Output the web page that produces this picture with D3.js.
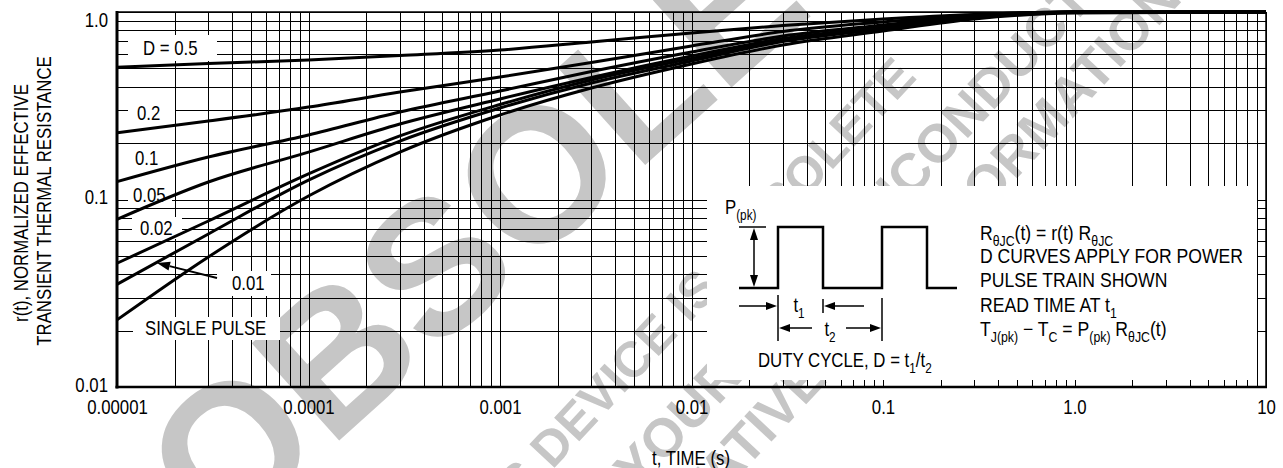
<!DOCTYPE html>
<html><head><meta charset="utf-8">
<script src="https://cdn.jsdelivr.net/npm/d3@7"></script>
<style>
html,body{margin:0;padding:0;background:#fff;}
svg{display:block;}
text{font-family:"Liberation Sans",Arial,Helvetica,sans-serif;}
</style>
</head><body>
<svg id="c" width="1283" height="468"></svg>
<script>
// ---------- DATA ----------
const times = [1e-5, 3e-5, 1e-4, 3e-4, 1e-3, 3e-3, 1e-2, 3e-2, 0.1, 0.3, 1, 10];
const curveD05   = [0.507, 0.531, 0.555, 0.586, 0.627, 0.692, 0.773, 0.847, 0.918, 0.970, 1.0, 1.0];
const curveD02   = [0.227, 0.262, 0.311, 0.374, 0.450, 0.538, 0.659, 0.787, 0.885, 0.965, 1.0, 1.0];
const curveD01   = [0.1245, 0.1685, 0.221, 0.293, 0.379, 0.4815, 0.612, 0.745, 0.852, 0.952, 1.0, 1.0];
const curveD005  = [0.0784, 0.124, 0.179, 0.2527, 0.3436, 0.4473, 0.582, 0.722, 0.832, 0.940, 1.0, 1.0];
const curveD002  = [0.0457, 0.0768, 0.1368, 0.2182, 0.321, 0.4337, 0.5649, 0.709, 0.822, 0.935, 1.0, 1.0];
const curveD001  = [0.0353, 0.0655, 0.127, 0.205, 0.3076, 0.418, 0.548, 0.696, 0.812, 0.929, 1.0, 1.0];
const curveSingle= [0.0228, 0.0494, 0.1044, 0.179, 0.2822, 0.393, 0.528, 0.6668, 0.792, 0.918, 0.988, 1.0];
const seriesNames = ["D = 0.5", "0.2", "0.1", "0.05", "0.02", "0.01", "SINGLE PULSE"];
const xTickValues = [1e-5, 1e-4, 1e-3, 1e-2, 0.1, 1, 10];
const xTickLabels = ["0.00001", "0.0001", "0.001", "0.01", "0.1", "1.0", "10"];
const yTickValues = [0.01, 0.1, 1];
const yTickLabels = ["0.01", "0.1", "1.0"];
const yTitleLines = ["r(t), NORMALIZED EFFECTIVE", "TRANSIENT THERMAL RESISTANCE"];
const xTitle = "t, TIME (s)";
const insetLines = [
  [["R",0],["θJC",1],["(t) = r(t) R",0],["θJC",1]],
  [["D CURVES APPLY FOR POWER",0]],
  [["PULSE TRAIN SHOWN",0]],
  [["READ TIME AT t",0],["1",1]],
  [["T",0],["J(pk)",1],[" − T",0],["C",1],[" = P",0],["(pk)",1],[" R",0],["θJC",1],["(t)",0]]
];
const dutyText = [["DUTY CYCLE, D = t",0],["1",1],["/t",0],["2",1]];
const watermarkBig = "OBSOLETE";
const watermarkSmall = ["THIS DEVICE IS OBSOLETE", "CONTACT YOUR ON SEMICONDUCTOR", "REPRESENTATIVE FOR INFORMATION"];

// ---------- SETUP ----------
const svg = d3.select("#c");
const L = 117, R = 1266, T = 12, B = 387;
const x = d3.scaleLog().domain([1e-5, 10]).range([L, R]);
const y = d3.scaleLog().domain([0.01, 1]).range([B, T]);
const FS = 20, SX = 0.84;

function rich(g, px, py, parts, anchor, sx, fs) {
  fs = fs || FS; sx = sx || SX;
  const t = g.append("text")
    .attr("transform", `translate(${px},${py + 0.36 * fs}) scale(${sx},1)`)
    .attr("text-anchor", anchor || "start")
    .attr("font-size", fs).attr("fill", "#000");
  let sub = false;
  parts.forEach(([s, isSub]) => {
    const ts = t.append("tspan").text(s);
    if (isSub && !sub) { ts.attr("dy", fs * 0.28).attr("font-size", fs * 0.7); sub = true; }
    else if (isSub) { ts.attr("font-size", fs * 0.7); }
    else if (!isSub && sub) { ts.attr("dy", -fs * 0.28); sub = false; }
  });
  return t;
}

// ---------- WATERMARK ----------
const wm = svg.append("g").attr("fill", "#c6c6c6").attr("font-weight", "bold");
wm.append("text").attr("transform", "translate(220,548) rotate(-42)")
  .attr("font-size", 190).text(watermarkBig);
const wmPos = [[918, 78, "end", 50], [800, 318, "middle", 54], [842, 366, "middle", 54]];
watermarkSmall.forEach((s, i) => {
  wm.append("text").attr("transform", `translate(${wmPos[i][0]},${wmPos[i][1]}) rotate(-47)`)
    .attr("text-anchor", wmPos[i][2]).attr("font-size", wmPos[i][3]).text(s);
});

// ---------- GRID ----------
const grid = svg.append("g").attr("stroke", "#000").attr("stroke-width", 1).attr("shape-rendering", "crispEdges");
x.ticks().forEach(v => {
  const px = Math.round(x(v)) + 0.5;
  grid.append("line").attr("x1", px).attr("x2", px).attr("y1", T).attr("y2", B);
});
y.ticks().forEach(v => {
  const py = Math.round(y(v)) + 0.5;
  grid.append("line").attr("x1", L).attr("x2", R).attr("y1", py).attr("y2", py);
});

// ---------- LABEL BOXES ----------
const boxes = [[128,35,217,61],[128,101,175,125],[128,146,172,170],[128,184,172,206],[132,217,182,239],[217,271,271,296],[133,317,280,340]];
boxes.forEach(b => svg.append("rect").attr("x", b[0]).attr("y", b[1]).attr("width", b[2]-b[0]).attr("height", b[3]-b[1]).attr("fill", "#fff"));

// inset white area
svg.append("rect").attr("x", 707).attr("y", 186).attr("width", 550).attr("height", 194).attr("fill", "#fff");

// ---------- CURVES ----------
const allSeries = [curveD05, curveD02, curveD01, curveD005, curveD002, curveD001, curveSingle];
const line = d3.line().x(d => x(d[0])).y(d => y(d[1])).curve(d3.curveMonotoneX);
allSeries.forEach(vals => {
  svg.append("path").datum(times.map((t, i) => [t, vals[i]]))
    .attr("d", line).attr("fill", "none").attr("stroke", "#000")
    .attr("stroke-width", 3).attr("stroke-linejoin", "round").attr("stroke-linecap", "butt");
});

// ---------- FRAME ----------
svg.append("line").attr("x1", L).attr("x2", L).attr("y1", T - 1).attr("y2", B + 1.5).attr("stroke", "#000").attr("stroke-width", 3);
svg.append("line").attr("x1", L - 1.5).attr("x2", R + 1).attr("y1", B).attr("y2", B).attr("stroke", "#000").attr("stroke-width", 2.5);
svg.append("line").attr("x1", R).attr("x2", R).attr("y1", T).attr("y2", B).attr("stroke", "#000").attr("stroke-width", 1.5);
svg.append("line").attr("x1", L).attr("x2", R).attr("y1", T).attr("y2", T).attr("stroke", "#000").attr("stroke-width", 1.5);

// ---------- SERIES LABELS ----------
const labelPos = [[143,48],[137,113],[135,158],[133,195],[140,228],[232,283],[145,328]];
seriesNames.forEach((s, i) => rich(svg, labelPos[i][0], labelPos[i][1], [[s,0]], "start"));

function arrow(g, x1, y1, x2, y2, len, hw, sw) {
  const dx = x2 - x1, dy = y2 - y1, d = Math.hypot(dx, dy), ux = dx / d, uy = dy / d;
  const bx = x2 - ux * len, by = y2 - uy * len;
  g.append("line").attr("x1", x1).attr("y1", y1).attr("x2", bx).attr("y2", by).attr("stroke", "#000").attr("stroke-width", sw || 1.5);
  g.append("path").attr("d", `M${x2},${y2}L${bx - uy * hw},${by + ux * hw}L${bx + uy * hw},${by - ux * hw}Z`).attr("fill", "#000");
}
arrow(svg, 217, 278, 157, 263, 13, 4.5, 2);

// ---------- INSET ----------
const ins = svg.append("g");
rich(ins, 725, 207, [["P",0],["(pk)",1]], "start");
ins.append("path").attr("d", "M739,288H778V227H823V288H882V227H927V288H957")
  .attr("fill", "none").attr("stroke", "#000").attr("stroke-width", 2.5);
ins.append("line").attr("x1", 739).attr("x2", 766).attr("y1", 227).attr("y2", 227).attr("stroke", "#000").attr("stroke-width", 1.5);
arrow(ins, 754, 258, 754, 228, 12, 4, 1.5);
arrow(ins, 754, 258, 754, 287, 12, 4, 1.5);
// t1
arrow(ins, 739, 306, 777, 306, 11, 4, 1.5);
arrow(ins, 864, 306, 824, 306, 11, 4, 1.5);
ins.append("line").attr("x1", 823).attr("x2", 823).attr("y1", 299).attr("y2", 313).attr("stroke", "#000").attr("stroke-width", 1.5);
ins.append("line").attr("x1", 778).attr("x2", 778).attr("y1", 295).attr("y2", 341).attr("stroke", "#000").attr("stroke-width", 1.5);
ins.append("line").attr("x1", 882).attr("x2", 882).attr("y1", 298).attr("y2", 341).attr("stroke", "#000").attr("stroke-width", 1.5);
rich(ins, 799, 305, [["t",0],["1",1]], "middle");
// t2
arrow(ins, 812, 328, 779, 328, 11, 4, 1.5);
arrow(ins, 846, 328, 881, 328, 11, 4, 1.5);
rich(ins, 830, 329, [["t",0],["2",1]], "middle");
rich(ins, 758, 360, dutyText, "start");
const insY = [233, 256, 280, 305, 329];
insetLines.forEach((p, i) => rich(ins, 980, insY[i], p, "start", 0.88));

// ---------- AXES LABELS ----------
const xAxis = d3.axisBottom(x).tickValues(xTickValues).tickFormat((d, i) => xTickLabels[i]).tickSize(0).tickPadding(0);
const gx = svg.append("g").attr("transform", `translate(0,${B})`).call(xAxis);
gx.select(".domain").remove();
gx.selectAll("text").attr("y", 27).attr("dy", 0).attr("font-size", FS)
  .attr("font-family", '"Liberation Sans",Arial,sans-serif').attr("fill", "#000")
  .attr("transform", `scale(${SX},1)`);

const yAxis = d3.axisLeft(y).tickValues(yTickValues).tickFormat((d, i) => yTickLabels[i]).tickSize(0).tickPadding(0);
const gy = svg.append("g").attr("transform", `translate(${L},0)`).call(yAxis);
gy.select(".domain").remove();
gy.selectAll("text").attr("x", -9 / SX).attr("dy", (d) => d === 1 ? 0.36 * FS + 7 : 0.36 * FS - 3)
  .attr("font-size", FS).attr("font-family", '"Liberation Sans",Arial,sans-serif').attr("fill", "#000")
  .attr("transform", `scale(${SX},1)`);

// titles
[[21, 203], [44, 201]].forEach(([cx, cy], i) => {
  svg.append("text").attr("transform", `translate(${cx},${cy}) rotate(-90) scale(${SX},1)`)
    .attr("y", 0.36 * FS).attr("text-anchor", "middle").attr("font-size", FS).text(yTitleLines[i]);
});
rich(svg, 691, 458, [[xTitle,0]], "middle");
</script>
</body></html>
